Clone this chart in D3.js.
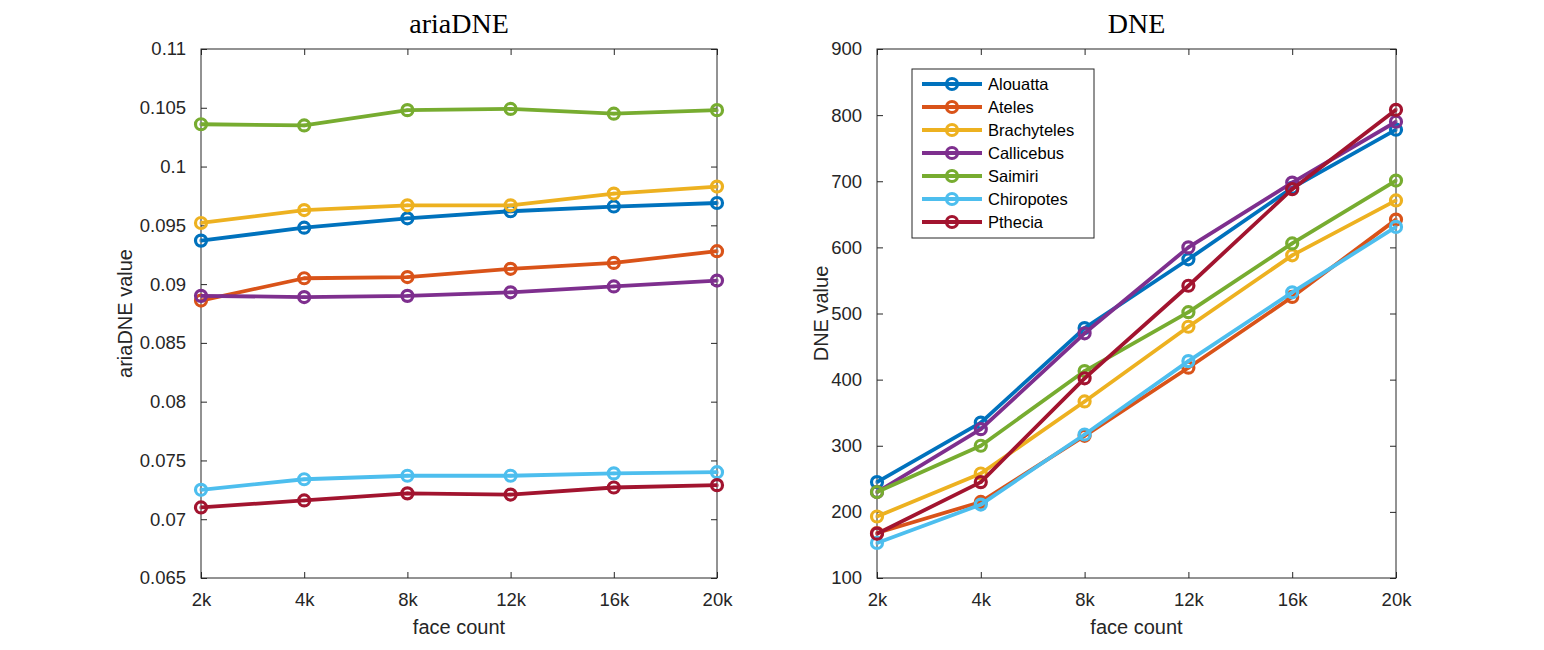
<!DOCTYPE html>
<html><head><meta charset="utf-8">
<script src="https://cdn.jsdelivr.net/npm/d3@7"></script>
<style>body{margin:0;background:#fff}svg{display:block}</style>
</head><body>
<svg id="c" width="1544" height="650"></svg>
<script>
const categories = ["2k","4k","8k","12k","16k","20k"];
const seriesNames = ["Alouatta","Ateles","Brachyteles","Callicebus","Saimiri","Chiropotes","Pthecia"];
const colors = ["#0072BD","#D95319","#EDB120","#7E2F8E","#77AC30","#4DBEEE","#A2142F"];

const ariaAlouatta    = [0.0937,0.0948,0.0956,0.0962,0.0966,0.0969];
const ariaAteles      = [0.0886,0.0905,0.0906,0.0913,0.0918,0.0928];
const ariaBrachyteles = [0.0952,0.0963,0.0967,0.0967,0.0977,0.0983];
const ariaCallicebus  = [0.0890,0.0889,0.0890,0.0893,0.0898,0.0903];
const ariaSaimiri     = [0.1036,0.1035,0.1048,0.1049,0.1045,0.1048];
const ariaChiropotes  = [0.0725,0.0734,0.0737,0.0737,0.0739,0.0740];
const ariaPthecia     = [0.0710,0.0716,0.0722,0.0721,0.0727,0.0729];

const dneAlouatta    = [245,335,478,582,690,778];
const dneAteles      = [168,215,315,418,525,642];
const dneBrachyteles = [193,258,367,480,588,671];
const dneCallicebus  = [230,325,470,600,698,790];
const dneSaimiri     = [230,300,413,502,606,701];
const dneChiropotes  = [153,211,317,428,532,631];
const dnePthecia     = [167,245,402,542,688,808];

const ariaTicks = [0.065,0.07,0.075,0.08,0.085,0.09,0.095,0.1,0.105,0.11];
const dneTicks = [100,200,300,400,500,600,700,800,900];

const ariaSeries = [ariaAlouatta,ariaAteles,ariaBrachyteles,ariaCallicebus,ariaSaimiri,ariaChiropotes,ariaPthecia];
const dneSeries = [dneAlouatta,dneAteles,dneBrachyteles,dneCallicebus,dneSaimiri,dneChiropotes,dnePthecia];

const svg = d3.select("#c");
const sansFont = "'Liberation Sans', Arial, sans-serif";

function drawMarker(g, x, y, c){
  g.append("circle").attr("cx",x).attr("cy",y).attr("r",5.5)
    .attr("fill","none").attr("stroke",c).attr("stroke-width",3.2);
  g.append("circle").attr("cx",x).attr("cy",y).attr("r",2)
    .attr("fill",c).attr("opacity",0.5);
}

function panel(opt){
  const {x0,x1,y0,y1,domain,ticks,fmt,series,title,ylabel,legend} = opt;
  const g = svg.append("g");
  const x = d3.scalePoint().domain(categories).range([x0,x1]);
  const y = d3.scaleLinear().domain(domain).range([y1,y0]);

  g.append("rect").attr("x",x0).attr("y",y0).attr("width",x1-x0).attr("height",y1-y0)
    .attr("fill","none").attr("stroke","#262626").attr("stroke-width",1);

  const tl = 6;
  const ax = d3.axisBottom(x).tickSizeInner(-tl).tickSizeOuter(0).tickPadding(0);
  const gx = g.append("g").attr("transform",`translate(0,${y1})`).call(ax);
  const axT = d3.axisTop(x).tickSizeInner(-tl).tickSizeOuter(0).tickFormat("");
  const gxt = g.append("g").attr("transform",`translate(0,${y0})`).call(axT);
  const ay = d3.axisLeft(y).tickValues(ticks).tickFormat(fmt).tickSizeInner(-tl).tickSizeOuter(0).tickPadding(tl+9);
  const gy = g.append("g").attr("transform",`translate(${x0},0)`).call(ay);
  const ayR = d3.axisRight(y).tickValues(ticks).tickSizeInner(-tl).tickSizeOuter(0).tickFormat("");
  const gyr = g.append("g").attr("transform",`translate(${x1},0)`).call(ayR);
  [gx,gxt,gy,gyr].forEach(a=>{
    a.select(".domain").remove();
    a.selectAll("line").attr("stroke","#262626");
    a.selectAll("text").attr("font-family",sansFont).attr("font-size",18.5).attr("fill","#262626");
  });
  gx.selectAll("text").attr("y",28).attr("dy",0);

  series.forEach((s,i)=>{
    const line = d3.line().x((d,j)=>x(categories[j])).y(d=>y(d));
    g.append("path").datum(s).attr("d",line).attr("fill","none")
      .attr("stroke",colors[i]).attr("stroke-width",3.8).attr("stroke-linejoin","round");
    s.forEach((v,j)=>drawMarker(g,x(categories[j]),y(v),colors[i]));
  });

  g.append("text").attr("x",(x0+x1)/2).attr("y",y0-16).attr("text-anchor","middle")
    .attr("font-family","'Liberation Serif','DejaVu Serif',serif").attr("font-size",28).attr("fill","#000").text(title);
  g.append("text").attr("x",(x0+x1)/2).attr("y",y1+56).attr("text-anchor","middle")
    .attr("font-family",sansFont).attr("font-size",20).attr("fill","#262626").text("face count");
  g.append("text").attr("transform",`translate(${opt.ylx},${(y0+y1)/2}) rotate(-90)`).attr("text-anchor","middle")
    .attr("font-family",sansFont).attr("font-size",20).attr("fill","#262626").text(ylabel);

  if(legend){
    const lg = g.append("g");
    const lx = 912, ly = 69, lw = 182, lh = 169;
    lg.append("rect").attr("x",lx).attr("y",ly).attr("width",lw).attr("height",lh)
      .attr("fill","#fff").attr("stroke","#262626").attr("stroke-width",1);
    seriesNames.forEach((n,i)=>{
      const yy = ly+15+i*23;
      lg.append("line").attr("x1",lx+10).attr("x2",lx+70).attr("y1",yy).attr("y2",yy)
        .attr("stroke",colors[i]).attr("stroke-width",3.8);
      drawMarker(lg,lx+40,yy,colors[i]);
      lg.append("text").attr("x",lx+76).attr("y",yy).attr("dy","0.35em")
        .attr("font-family",sansFont).attr("font-size",16.5).attr("fill","#000").text(n);
    });
  }
}

panel({x0:201,x1:717,y0:49,y1:578,domain:[0.065,0.11],ticks:ariaTicks,
  fmt:d=>d3.format("")(+d.toFixed(3)),series:ariaSeries,title:"ariaDNE",ylabel:"ariaDNE value",ylx:132,legend:false});
panel({x0:877,x1:1396,y0:49,y1:578,domain:[100,900],ticks:dneTicks,
  fmt:d=>String(d),series:dneSeries,title:"DNE",ylabel:"DNE value",ylx:828,legend:true});
</script>
</body></html>
